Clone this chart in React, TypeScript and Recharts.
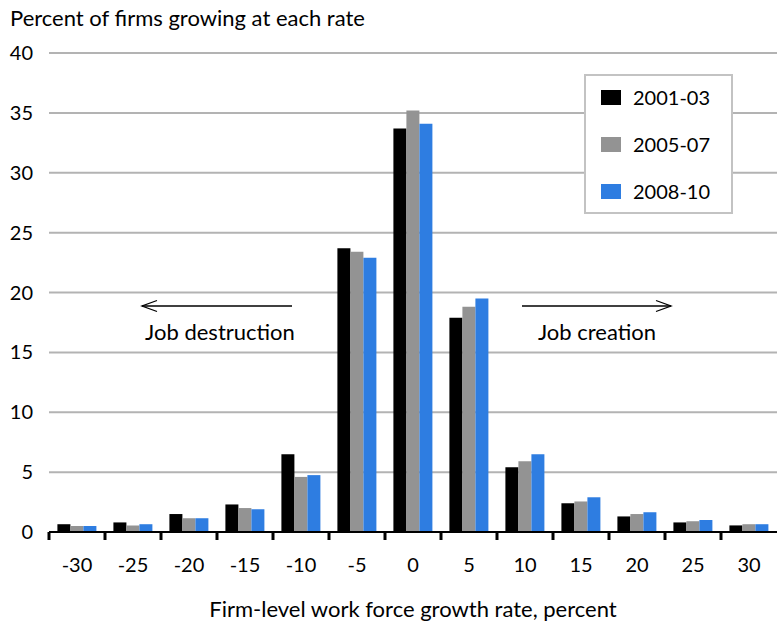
import { BarChart, Bar, XAxis, YAxis, CartesianGrid, Legend } from 'recharts';

const rates = ['-30', '-25', '-20', '-15', '-10', '-5', '0', '5', '10', '15', '20', '25', '30'];
const y2001 = [0.65, 0.8, 1.5, 2.3, 6.5, 23.7, 33.7, 17.9, 5.4, 2.4, 1.3, 0.8, 0.55];
const y2005 = [0.5, 0.55, 1.15, 2.0, 4.6, 23.4, 35.2, 18.8, 5.9, 2.55, 1.5, 0.9, 0.65];
const y2008 = [0.5, 0.65, 1.15, 1.9, 4.75, 22.9, 34.1, 19.5, 6.5, 2.9, 1.65, 1.0, 0.65];
const yTicks = [0, 5, 10, 15, 20, 25, 30, 35, 40];

const series = [
  { key: 'a', name: '2001-03', color: '#000000' },
  { key: 'b', name: '2005-07', color: '#939393' },
  { key: 'c', name: '2008-10', color: '#2e7de1' },
];

const data = rates.map((r, i) => ({ rate: r, a: y2001[i], b: y2005[i], c: y2008[i] }));

const FONT = 'Lato, "Open Sans", sans-serif';

const XTick = ({ x, y, payload }: any) => (
  <g>
    <rect x={x - 28 - 1.5} y={y} width={3} height={8} fill="#000" />
    <text x={x} y={y + 40} textAnchor="middle" fontSize={20} fill="#000" fontFamily={FONT}>
      {payload.value}
    </text>
  </g>
);

const LegendBox = () => (
  <div
    style={{
      position: 'relative',
      width: 145,
      height: 136,
      border: '2px solid #c3c3c3',
      background: '#fff',
      fontFamily: FONT,
      fontSize: 20,
      boxSizing: 'content-box',
      color: '#000',
    }}
  >
    {series.map((s, i) => (
      <div key={s.key} style={{ position: 'absolute', left: 15, top: 9 + i * 47, display: 'flex', alignItems: 'center' }}>
        <div style={{ width: 20, height: 15, background: s.color, marginRight: 12 }} />
        <span>{s.name}</span>
      </div>
    ))}
  </div>
);

function Arrow({ x1, x2, y }: { x1: number; x2: number; y: number }) {
  const dir = x2 > x1 ? 1 : -1;
  return (
    <g stroke="#000" strokeWidth={1.3} fill="none">
      <line x1={x1} y1={y} x2={x2} y2={y} />
      <polyline points={`${x2 - dir * 15},${y - 5.5} ${x2},${y} ${x2 - dir * 15},${y + 5.5}`} />
    </g>
  );
}

export default function App() {
  return (
    <div style={{ position: 'absolute', left: 0, top: 0, width: 778, height: 625, background: '#fff', fontFamily: FONT }}>
      <div style={{ position: 'absolute', left: 10, top: 4, fontSize: 22 }}>Percent of firms growing at each rate</div>
      <BarChart
        width={778}
        height={625}
        data={data}
        margin={{ top: 53, right: 1, left: 10, bottom: 0 }}
        barCategoryGap="15%"
        barGap={0}
      >
        <CartesianGrid vertical={false} stroke="#b3b3b3" strokeWidth={2} />
        <XAxis
          dataKey="rate"
          height={93}
          tickLine={false}
          tickSize={0}
          tickMargin={0}
          axisLine={{ stroke: '#000', strokeWidth: 2 }}
          tick={<XTick />}
          interval={0}
          label={{ value: 'Firm-level work force growth rate, percent', position: 'insideBottom', offset: 8, fill: '#000', fontSize: 22, fontFamily: FONT }}
        />
        <YAxis
          width={39}
          domain={[0, 40]}
          ticks={yTicks}
          axisLine={false}
          tickLine={false}
          tickMargin={10}
          tick={{ fill: '#000', fontSize: 20, fontFamily: FONT }}
        />
        <Legend
          layout="horizontal"
          verticalAlign="middle"
          align="center"
          content={<LegendBox />}
          wrapperStyle={{ position: 'absolute', left: 584, top: 74, width: 149, height: 140 }}
        />
        {series.map((s) => (
          <Bar key={s.key} dataKey={s.key} name={s.name} fill={s.color} isAnimationActive={false} />
        ))}
      </BarChart>
      <svg width={778} height={625} style={{ position: 'absolute', left: 0, top: 0, pointerEvents: 'none' }}>
        <Arrow x1={292} x2={142} y={306} />
        <Arrow x1={522} x2={671} y={306} />
        <text x={220} y={340} textAnchor="middle" fontSize={22} fontFamily={FONT} fill="#000">Job destruction</text>
        <text x={597} y={340} textAnchor="middle" fontSize={22} fontFamily={FONT} fill="#000">Job creation</text>
      </svg>
    </div>
  );
}
